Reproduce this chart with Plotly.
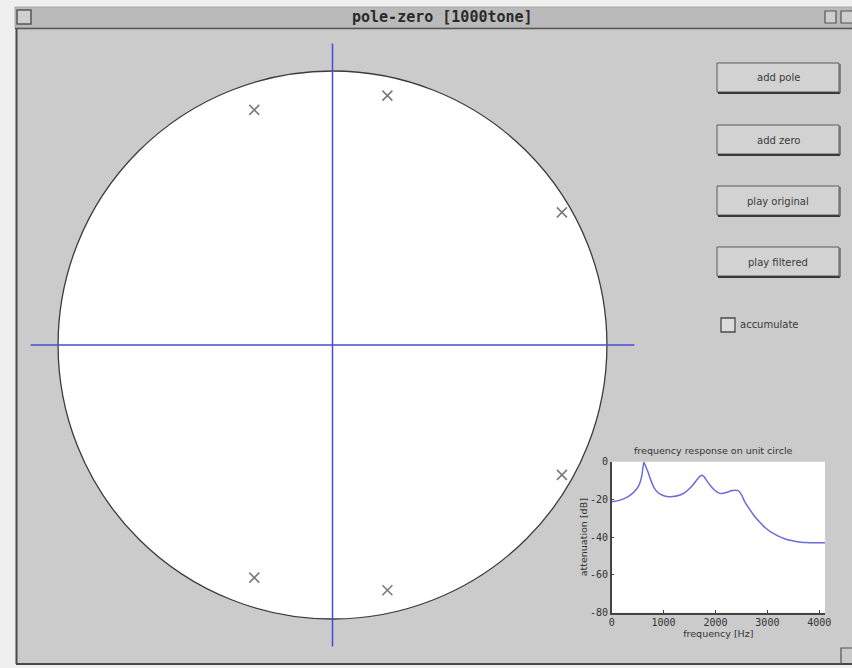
import plotly.graph_objects as go

W, H = 852, 668

# ---- data -------------------------------------------------------------
pole_re = [-0.285, 0.200, 0.836, 0.836, -0.285, 0.200]
pole_im = [0.858, 0.910, 0.484, -0.474, -0.849, -0.895]

freq_hz = [0, 150, 300, 400, 480, 540, 580, 620, 660, 700, 750, 820, 900, 980,
           1060, 1180, 1300, 1400, 1500, 1580, 1650, 1700, 1740, 1780, 1830,
           1900, 1980, 2060, 2140, 2220, 2300, 2380, 2440, 2500, 2560, 2640,
           2740, 2850, 2960, 3080, 3200, 3330, 3460, 3600, 3740, 3880, 4000, 4110]
atten_db = [-21.2, -20.5, -18.8, -16.8, -14.5, -11.5, -7.5, -0.3, -2.8, -5.5,
            -9.5, -14.0, -16.6, -17.8, -18.4, -18.5, -17.8, -16.5, -14.2, -11.8,
            -9.3, -7.8, -7.2, -8.0, -10.0, -12.6, -15.0, -16.5, -16.8, -16.2,
            -15.4, -15.1, -15.3, -17.5, -21.0, -24.5, -28.5, -32.0, -35.0, -37.5,
            -39.3, -40.8, -41.8, -42.5, -42.8, -43.0, -43.0, -43.0]

freq_ticks = [0, 1000, 2000, 3000, 4000]
db_ticks = [-80, -60, -40, -20, 0]

buttons = ["add pole", "add zero", "play original", "play filtered"]
window_title = "pole-zero [1000tone]"

AXIS_EXT = 1.1          # length of the real / imaginary axis lines
BLUE = "#4a4ad6"
GRAY_BG = "#cbcbcb"


def px(x):
    return x / W


def py(y):
    return 1 - y / H


def label(text, x, y, font, xanchor="center"):
    return dict(text=text, xref="paper", yref="paper", x=px(x), y=py(y),
                xanchor=xanchor, yanchor="middle", showarrow=False, font=font)


fig = go.Figure()

# real and imaginary axes of the z-plane
fig.add_trace(go.Scatter(x=[-AXIS_EXT, AXIS_EXT], y=[0, 0], mode="lines",
                         line=dict(color=BLUE, width=1.5), hoverinfo="skip",
                         xaxis="x", yaxis="y"))
fig.add_trace(go.Scatter(x=[0, 0], y=[-AXIS_EXT, AXIS_EXT], mode="lines",
                         line=dict(color=BLUE, width=1.5), hoverinfo="skip",
                         xaxis="x", yaxis="y"))
# poles
fig.add_trace(go.Scatter(x=pole_re, y=pole_im, mode="markers",
                         marker=dict(symbol="x-thin-open", size=10, color="#7a7a7a",
                                     line=dict(color="#7a7a7a", width=1.6)),
                         xaxis="x", yaxis="y"))
# frequency response
fig.add_trace(go.Scatter(x=freq_hz, y=atten_db, mode="lines",
                         line=dict(color="#6b6bdc", width=1.5, shape="spline",
                                   smoothing=0.5),
                         xaxis="x2", yaxis="y2"))

shapes = []
# window body and title bar
shapes.append(dict(type="rect", xref="paper", yref="paper", x0=px(16), x1=px(W),
                   y0=py(664), y1=py(29), fillcolor=GRAY_BG, line=dict(width=0),
                   layer="below"))
shapes.append(dict(type="line", xref="paper", yref="paper", x0=px(16.5), x1=px(16.5),
                   y0=py(664), y1=py(29), line=dict(color="#4a4a4a", width=2)))
shapes.append(dict(type="line", xref="paper", yref="paper", x0=px(16), x1=px(W),
                   y0=py(664), y1=py(664), line=dict(color="#4a4a4a", width=2)))
shapes.append(dict(type="rect", xref="paper", yref="paper", x0=px(15), x1=px(W),
                   y0=py(28), y1=py(7), fillcolor="#bababa",
                   line=dict(color="#a8a8a8", width=1), layer="below"))
shapes.append(dict(type="line", xref="paper", yref="paper", x0=px(15), x1=px(W),
                   y0=py(28.5), y1=py(28.5), line=dict(color="#555555", width=1.5)))
shapes.append(dict(type="rect", xref="paper", yref="paper", x0=px(17), x1=px(31),
                   y0=py(24), y1=py(10), fillcolor="#cfcfcf",
                   line=dict(color="#555555", width=1.5)))
shapes.append(dict(type="rect", xref="paper", yref="paper", x0=px(825), x1=px(836),
                   y0=py(23), y1=py(11), fillcolor="#cfcfcf",
                   line=dict(color="#555555", width=1.2)))
shapes.append(dict(type="rect", xref="paper", yref="paper", x0=px(841), x1=px(853),
                   y0=py(23), y1=py(11), fillcolor="#cfcfcf",
                   line=dict(color="#555555", width=1.2)))
# resize grip
shapes.append(dict(type="path", xref="paper", yref="paper",
                   path=f"M {px(841)},{py(664)} L {px(841)},{py(648)} L {px(W)},{py(648)}",
                   line=dict(color="#555555", width=1.2)))

# unit circle
shapes.append(dict(type="circle", xref="x", yref="y", x0=-1, y0=-1, x1=1, y1=1,
                   fillcolor="white", line=dict(color="#3c3c3c", width=1.3),
                   layer="below"))
# white plotting area of the response axes
shapes.append(dict(type="rect", xref="x2 domain", yref="y2 domain", x0=0, x1=1,
                   y0=0, y1=1, fillcolor="white", line=dict(width=0), layer="below"))

ui_font = dict(family="DejaVu Sans, Verdana, sans-serif", size=10, color="#3a3a3a")

# buttons
btn_tops = [63, 125, 186, 247]
annotations = []
for text, top in zip(buttons, btn_tops):
    shapes.append(dict(type="rect", xref="paper", yref="paper", x0=px(717), x1=px(839),
                       y0=py(top + 29), y1=py(top), fillcolor="#d2d2d2",
                       line=dict(color="#5a5a5a", width=1)))
    shapes.append(dict(type="line", xref="paper", yref="paper", x0=px(718), x1=px(840),
                       y0=py(top + 30), y1=py(top + 30),
                       line=dict(color="#3a3a3a", width=2)))
    shapes.append(dict(type="line", xref="paper", yref="paper", x0=px(840), x1=px(840),
                       y0=py(top + 30), y1=py(top + 1),
                       line=dict(color="#6a6a6a", width=1.5)))
    annotations.append(label(text, 778, top + 15, ui_font))

# checkbox
shapes.append(dict(type="rect", xref="paper", yref="paper", x0=px(721), x1=px(735),
                   y0=py(332), y1=py(318), fillcolor="#dcdcdc",
                   line=dict(color="#4a4a4a", width=1.3)))
annotations.append(label("accumulate", 738, 325, ui_font, xanchor="left"))

# window title
annotations.append(label("<b>" + window_title + "</b>", 442, 17.5,
                         dict(family="DejaVu Sans Mono, monospace", size=15,
                              color="#2a2a2a")))

small_font = dict(family="DejaVu Sans, Verdana, sans-serif", size=9.5, color="#333333")
annotations.append(label("frequency response on unit circle", 713, 450, small_font))

# pixel geometry of the two axes
main_l, main_r, main_t, main_b = 16.9, 648.1, 29.9, 660.1
resp_l, resp_r, resp_t, resp_b = 611.7, 825.0, 461.7, 612.7

tick_font = dict(family="DejaVu Sans Mono, monospace", size=10, color="#333333")

fig.update_layout(
    width=W, height=H,
    margin=dict(l=0, r=0, t=0, b=0, pad=0, autoexpand=False),
    paper_bgcolor="#efefef",
    plot_bgcolor="rgba(0,0,0,0)",
    showlegend=False,
    shapes=shapes,
    annotations=annotations,
    xaxis=dict(domain=[px(main_l), px(main_r)], range=[-1.15, 1.15],
               visible=False, fixedrange=True, automargin=False),
    yaxis=dict(domain=[py(main_b), py(main_t)], range=[-1.15, 1.15],
               visible=False, fixedrange=True, automargin=False),
    xaxis2=dict(domain=[px(resp_l), px(resp_r)], range=[0, 4110], anchor="y2",
                tickvals=freq_ticks, ticktext=[str(v) for v in freq_ticks],
                ticks="inside", ticklen=3, tickcolor="#444444",
                showline=True, linecolor="#444444", linewidth=1.5,
                showgrid=False, zeroline=False, automargin=False,
                tickfont=tick_font,
                title=dict(text="frequency [Hz]", font=small_font, standoff=3)),
    yaxis2=dict(domain=[py(resp_b), py(resp_t)], range=[-80, 0], anchor="x2",
                tickvals=db_ticks, ticktext=[str(v) for v in db_ticks],
                ticks="inside", ticklen=3, tickcolor="#444444",
                showline=True, linecolor="#444444", linewidth=1.5,
                showgrid=False, zeroline=False, automargin=False,
                tickfont=tick_font,
                title=dict(text="attenuation [dB]", font=small_font, standoff=1)),
)

fig.write_html("out.html")
